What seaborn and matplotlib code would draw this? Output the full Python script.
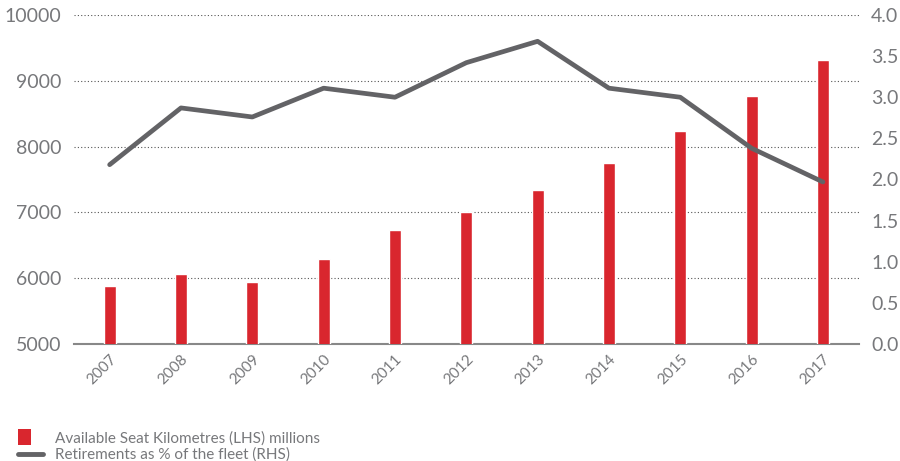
import numpy as np
import pandas as pd
import matplotlib
matplotlib.use('Agg')
import matplotlib.pyplot as plt
import seaborn as sns
from matplotlib.patches import Patch, Rectangle
from matplotlib.lines import Line2D
from matplotlib.legend_handler import HandlerPatch

# data
years = ['2007', '2008', '2009', '2010', '2011', '2012',
         '2013', '2014', '2015', '2016', '2017']
ask_millions = [5880, 6060, 5940, 6290, 6730, 7000, 7340, 7750, 8240, 8770, 9320]
retire_pct = [2.18, 2.87, 2.76, 3.11, 3.00, 3.42, 3.68, 3.11, 3.00, 2.38, 1.97]

left_ticks = [5000, 6000, 7000, 8000, 9000, 10000]
right_ticks = [0.0, 0.5, 1.0, 1.5, 2.0, 2.5, 3.0, 3.5, 4.0]

red = '#d9262e'
dark = '#636366'
txt = '#77787b'

sns.set_style('white')
plt.rcParams['font.family'] = ['Lato', 'DejaVu Sans']

df = pd.DataFrame({'year': years, 'ask': ask_millions,
                   'pct': retire_pct, 'pos': np.arange(len(years))})

fig = plt.figure(figsize=(9, 4.61), dpi=100)
ax = fig.add_axes([0.0822, 0.2538, 0.8718, 0.7137])

sns.barplot(data=df, x='year', y='ask', color=red, width=0.17,
            saturation=1, ax=ax, zorder=3)
ax.set_ylim(5000, 10000)
ax.set_xlim(-0.5, 10.5)
ax.set_yticks(left_ticks)
ax.set_yticklabels([str(t) for t in left_ticks], fontsize=14, color=txt)
ax.set_xlabel('')
ax.set_ylabel('')
ax.grid(axis='y', linestyle=(0, (1, 2)), color='#555555', linewidth=0.8)
ax.set_axisbelow(True)
for side in ['top', 'left', 'right']:
    ax.spines[side].set_visible(False)
ax.spines['bottom'].set_color('#888888')
ax.spines['bottom'].set_linewidth(1.5)
ax.tick_params(axis='y', length=0, pad=9)
ax.tick_params(axis='x', length=0, pad=6)
plt.setp(ax.get_xticklabels(), rotation=45, ha='right',
         rotation_mode='anchor', fontsize=11, color=txt)

ax2 = ax.twinx()
sns.lineplot(data=df, x='pos', y='pct', color=dark, linewidth=3.4, ax=ax2)
ax2.set_ylim(0, 4)
ax2.set_yticks(right_ticks)
ax2.set_yticklabels([f'{t:.1f}' for t in right_ticks], fontsize=14, color=txt)
ax2.set_ylabel('')
ax2.set_xlabel('')
ax2.set_xlim(-0.5, 10.5)
for side in ['top', 'left', 'right', 'bottom']:
    ax2.spines[side].set_visible(False)
ax2.tick_params(axis='y', length=0, pad=9)


class SquareHandler(HandlerPatch):
    def create_artists(self, legend, orig_handle, xdescent, ydescent,
                       width, height, fontsize, trans):
        w = width * 0.52
        h = height * 1.45
        y0 = -ydescent + height / 2 - h / 2
        r = Rectangle((-xdescent, y0), w, h, facecolor=orig_handle.get_facecolor(),
                      edgecolor='none', transform=trans)
        return [r]


handles = [Patch(facecolor=red, edgecolor='none'),
           Line2D([0], [0], color=dark, linewidth=3.5)]
labels = ['Available Seat Kilometres (LHS) millions',
          'Retirements as % of the fleet (RHS)']
leg = fig.legend(handles, labels, loc='lower left', bbox_to_anchor=(0.005, -0.032),
                 frameon=False, fontsize=11, handlelength=1.65, handletextpad=0.75,
                 labelspacing=0.15, labelcolor=txt,
                 handler_map={Patch: SquareHandler()})

fig.savefig('out.png', dpi=100)
